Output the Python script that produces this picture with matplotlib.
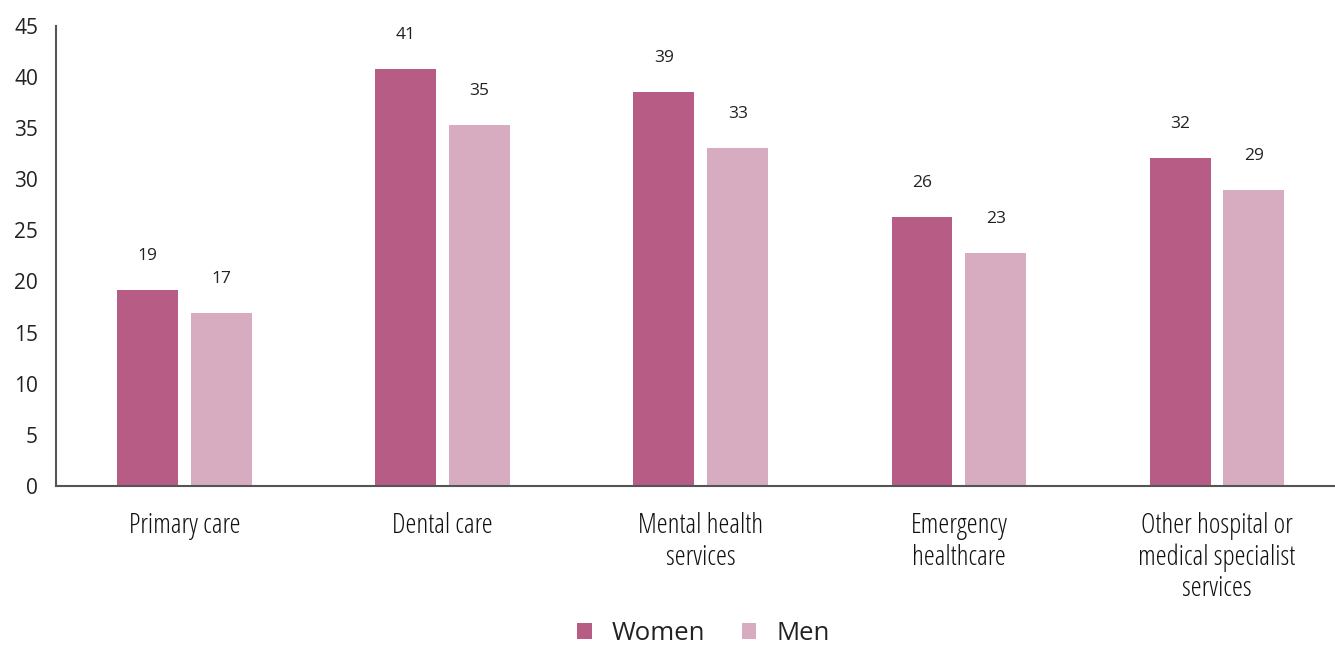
import matplotlib
matplotlib.use("Agg")
import matplotlib.pyplot as plt
from matplotlib import font_manager
from matplotlib.font_manager import FontProperties
import numpy as np

categories = ["Primary care", "Dental care", "Mental health\nservices",
              "Emergency\nhealthcare", "Other hospital or\nmedical specialist\nservices"]
women = [19.2, 40.8, 38.5, 26.3, 32.1]
men = [16.9, 35.3, 33.1, 22.8, 28.9]
women_labels = ["19", "41", "39", "26", "32"]
men_labels = ["17", "35", "33", "23", "29"]
yticks = [0, 5, 10, 15, 20, 25, 30, 35, 40, 45]

women_color = "#b75c85"
men_color = "#d8acc0"
text_color = "#222222"

plt.rcParams["font.family"] = ["Open Sans", "DejaVu Sans"]

# condensed font for category labels
cond_path = None
for f in font_manager.fontManager.ttflist:
    if f.fname.endswith("OpenSans-CondLight.ttf"):
        cond_path = f.fname
        break
if cond_path:
    cond_fp = FontProperties(fname=cond_path, size=20)
else:
    cond_fp = FontProperties(family=["Roboto Condensed", "DejaVu Sans"], size=18)

fig = plt.figure(figsize=(13.35, 6.46), dpi=100)
ax = fig.add_axes([0.042, 0.2477, 0.958, 0.7123])

x = np.arange(len(categories))
w = 0.236
off = 0.143
b1 = ax.bar(x - off, women, w, color=women_color, label="Women")
b2 = ax.bar(x + off, men, w, color=men_color, label="Men")

for xi, v, lab in zip(x - off, women, women_labels):
    ax.annotate(lab, (xi, v), xytext=(0, 34), textcoords="offset pixels",
                ha="center", va="center", fontsize=12.5, color=text_color)
for xi, v, lab in zip(x + off, men, men_labels):
    ax.annotate(lab, (xi, v), xytext=(0, 34), textcoords="offset pixels",
                ha="center", va="center", fontsize=12.5, color=text_color)

ax.set_xlim(-0.498, 4.457)
ax.set_ylim(0, 45)
ax.set_yticks(yticks)
ax.set_yticklabels([str(t) for t in yticks], fontsize=15, color=text_color)
ax.tick_params(axis="y", length=0, pad=13)
ax.tick_params(axis="x", length=0, pad=19)
ax.set_xticks(x)
ax.set_xticklabels(categories, color="#111111", fontproperties=cond_fp,
                   linespacing=1.15)
for s in ["top", "right"]:
    ax.spines[s].set_visible(False)
for s in ["left", "bottom"]:
    ax.spines[s].set_color("#555555")
    ax.spines[s].set_linewidth(1.5)

fig.legend(handles=[b1, b2], labels=["Women", "Men"], loc="lower center",
           bbox_to_anchor=(0.527, -0.036), ncol=2, frameon=False, fontsize=18.5,
           handlelength=0.55, handleheight=0.55, columnspacing=1.4, handletextpad=0.8,
           labelcolor=text_color)

fig.savefig("out.png", dpi=100)
